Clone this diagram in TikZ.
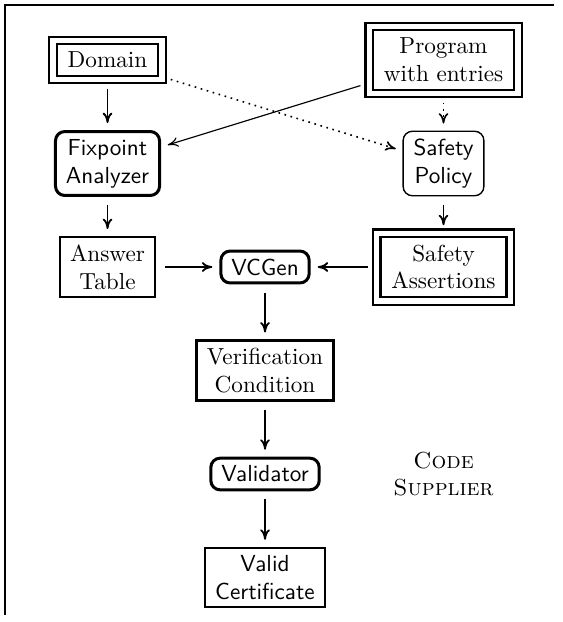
\documentclass[tikz,border=0pt]{standalone}
\usepackage{tikz}
\usetikzlibrary{arrows.meta,positioning}

\tikzset{
  dblbox/.style={draw, double, double distance=2.3pt, line width=0.9pt,
    inner xsep=6.3pt, inner ysep=5pt, align=center},
  sglbox/.style={draw, line width=0.9pt, inner xsep=4.5pt, inner ysep=3.3pt, align=center},
  ovlbox/.style={draw, line width=1.3pt, rounded corners=4pt, inner xsep=4.5pt,
    inner ysep=3.3pt, align=center, font=\sffamily},
  thinovl/.style={ovlbox, line width=0.6pt}
}

\begin{document}
\begin{tikzpicture}[>={To[length=4.5pt,width=4.2pt]}, shorten >=3pt, shorten <=3.5pt,
  node distance=1.568cm, on grid, auto]

\useasboundingbox (-1.629,0.909) rectangle (6.886,-8.514);
\draw[line width=0.9pt] (6.886,0.833) -- (-1.553,0.833) -- (-1.553,-8.514);

\node[dblbox] (dom)                        {Domain};
\node[ovlbox] (fix) [below=of dom]         {Fixpoint\\Analyzer};
\node[sglbox] (ans) [below=of fix]         {Answer\\Table};
\node[ovlbox] (vcg) [right=2.386cm of ans] {VCGen};
\node[sglbox] (ver) [below=of vcg]         {Verification\\Condition};
\node[ovlbox] (val) [below=of ver]         {Validator};
\node[sglbox, font=\sffamily] (crt) [below=of val] {Valid\\Certificate};
\node[dblbox] (sas) [right=2.704cm of vcg] {Safety\\Assertions};
\node[thinovl] (pol) [above=of sas]        {Safety\\Policy};
\node[dblbox] (prg) [above=of pol]         {Program\\with entries};
\node[align=center, font=\scshape] (sup) [right=2.704cm of val] {Code\\Supplier};

\path[->, line width=0.8pt]
    (dom) edge (fix)
    (fix) edge (ans)
    (ans) edge (vcg)
    (sas) edge (vcg)
    (pol) edge (sas)
    (vcg) edge (ver)
    (ver) edge (val)
    (val) edge (crt);

\path[->, line width=0.5pt]
    (prg) edge (fix);

\path[->, dotted, line width=0.7pt]
    (dom) edge (pol)
    (prg) edge (pol);
\end{tikzpicture}
\end{document}
